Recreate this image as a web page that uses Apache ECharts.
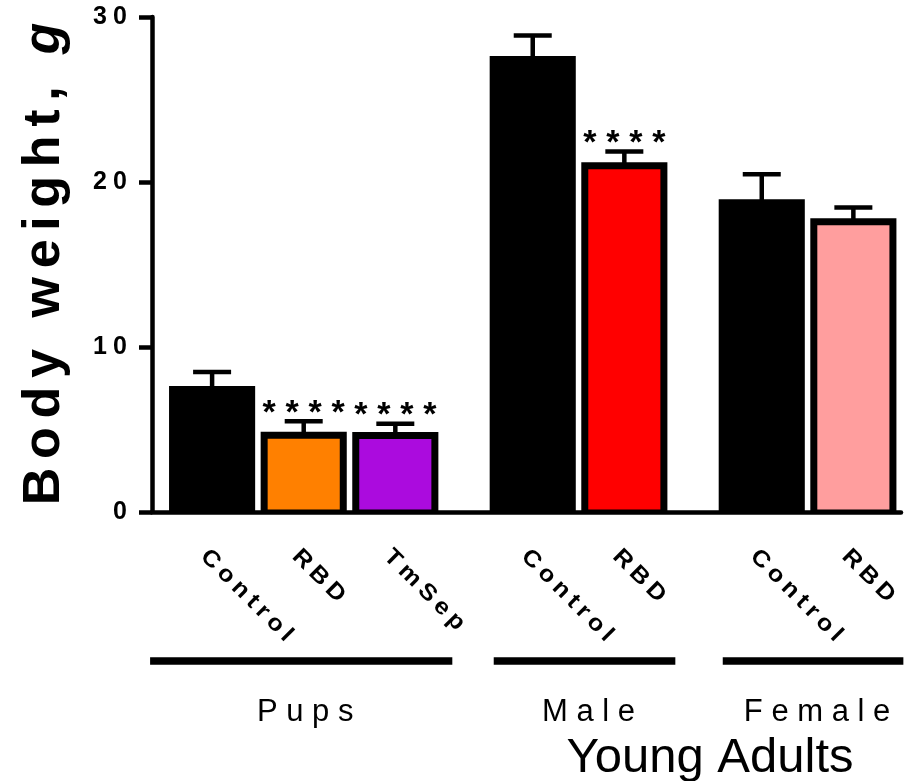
<!DOCTYPE html>
<html>
<head>
<meta charset="utf-8">
<script src="https://cdn.jsdelivr.net/npm/echarts@6/dist/echarts.min.js"></script>
<style>
  html, body { margin: 0; padding: 0; background: #ffffff; }
  #chart { width: 906px; height: 781px; }
</style>
</head>
<body>
<div id="chart"></div>
<script>
// Body weight (g): mean and SEM for each group and condition
const groups = ['Pups', 'Male', 'Female'];
const conditions = [['Control', 'RBD', 'TmSep'], ['Control', 'RBD'], ['Control', 'RBD']];
const means = [[7.64, 4.87, 4.85], [27.64, 21.19], [18.95, 17.80]];
const sems = [[0.84, 0.63, 0.50], [1.24, 0.66], [1.52, 0.65]];
const significance = [['', '****', '****'], ['', '****'], ['', '']];
const yTicks = [0, 10, 20, 30];
const adultsLabel = 'Young Adults';
const yTitle = 'Body weight, ';
const yTitleUnit = 'g';

// fill colours per condition (control bars are solid black)
const fills = [['#000000', '#ff8000', '#ab0bde'], ['#000000', '#ff0000'], ['#000000', '#ff9e9e']];

const FONT = '"Liberation Sans", Arial, Helvetica, sans-serif';
const spaced = (s, gap) => s.split('').join(gap);

// place bars: one slot per bar, half a slot of extra room between groups
const bars = [];
let slot = 0;
groups.forEach((g, gi) => {
  conditions[gi].forEach((c, ci) => {
    bars.push({
      pos: slot + gi * 0.5,
      mean: means[gi][ci],
      sem: sems[gi][ci],
      fill: fills[gi][ci],
      name: c,
      stars: significance[gi][ci]
    });
    slot++;
  });
});
const groupSpans = [];
{
  let k = 0;
  groups.forEach((g, gi) => {
    const n = conditions[gi].length;
    groupSpans.push([bars[k].pos, bars[k + n - 1].pos]);
    k += n;
  });
}
// horizontal reach of the group underline beyond first/last bar centre (px)
const bracketPad = [[62, 57], [39, 51], [39, 50]];

const chart = echarts.init(document.getElementById('chart'), null, { renderer: 'canvas' });

const option = {
  animation: false,
  backgroundColor: '#ffffff',
  grid: { left: 152, top: 17, width: 749, height: 495, containLabel: false },
  xAxis: {
    type: 'value',
    min: -0.656,
    max: 7.52,
    axisLine: { show: true, onZero: false, lineStyle: { color: '#000', width: 4.5 } },
    axisTick: { show: false },
    axisLabel: { show: false },
    splitLine: { show: false }
  },
  yAxis: {
    type: 'value',
    min: yTicks[0],
    max: yTicks[yTicks.length - 1],
    interval: yTicks[1] - yTicks[0],
    axisLine: { show: true, onZero: false, lineStyle: { color: '#000', width: 4.5 } },
    axisTick: { show: true, inside: false, length: 13, lineStyle: { color: '#000', width: 4.5 } },
    axisLabel: {
      margin: 25,
      color: '#000',
      fontFamily: FONT,
      fontWeight: 'bold',
      fontSize: 25,
      padding: [6, 0, 0, 0],
      formatter: v => spaced(String(v), '\u2005')
    },
    splitLine: { show: false }
  },
  graphic: [
    {
      type: 'text',
      x: 45,
      y: 264,
      rotation: Math.PI / 2,
      style: {
        text: '{a|' + spaced(yTitle, '\u2006') + '\u2006}{b|' + yTitleUnit + '}',
        align: 'center',
        verticalAlign: 'middle',
        rich: {
          a: { fontFamily: FONT, fontWeight: 'bold', fontSize: 52, fill: '#000' },
          b: { fontFamily: FONT, fontWeight: 'bold', fontStyle: 'italic', fontSize: 52, fill: '#000' }
        }
      }
    },
    {
      type: 'text',
      x: 710,
      y: 758,
      style: {
        text: adultsLabel,
        fontFamily: FONT,
        fontSize: 49,
        fill: '#000',
        align: 'center',
        verticalAlign: 'middle'
      }
    }
  ],
  series: [
    {
      type: 'custom',
      name: 'bars',
      clip: false,
      data: bars.map(b => [b.pos, b.mean, b.sem]),
      renderItem: (params, api) => {
        const b = bars[params.dataIndex];
        const x = api.value(0), m = api.value(1), s = api.value(2);
        const base = api.coord([x, 0]);
        const top = api.coord([x, m]);
        const err = api.coord([x, m + s]);
        const unit = api.size([1, 0])[0];
        const w = unit * 0.94;
        const cx = base[0];
        const left = cx - w / 2;
        const border = 7;
        const children = [];
        // outline / solid bar
        children.push({
          type: 'rect',
          shape: { x: left, y: top[1], width: w, height: base[1] - top[1] },
          style: { fill: '#000' }
        });
        if (b.fill !== '#000000') {
          children.push({
            type: 'rect',
            shape: { x: left + border, y: top[1] + border, width: w - 2 * border, height: base[1] - 2.5 - top[1] - border },
            style: { fill: b.fill }
          });
        }
        // SEM whisker
        children.push({
          type: 'line',
          shape: { x1: cx, y1: top[1] + 1, x2: cx, y2: err[1] },
          style: { stroke: '#000', lineWidth: 4.5 }
        });
        children.push({
          type: 'line',
          shape: { x1: cx - 19, y1: err[1], x2: cx + 19, y2: err[1] },
          style: { stroke: '#000', lineWidth: 4.5 }
        });
        // significance asterisks
        const n = b.stars.length;
        for (let k = 0; k < n; k++) {
          children.push({
            type: 'text',
            x: cx + (k - (n - 1) / 2) * 23,
            y: err[1] - 8,
            style: {
              text: '*', fontFamily: FONT, fontWeight: 'bold', fontSize: 34,
              fill: '#000', align: 'center', verticalAlign: 'middle'
            }
          });
        }
        // condition label, slanted
        children.push({
          type: 'text',
          x: cx - 8,
          y: base[1] + 41,
          rotation: -Math.PI / 4,
          scaleX: 1.1,
          style: {
            text: spaced(b.name, '\u2009'),
            fontFamily: FONT, fontWeight: 'bold', fontSize: 23,
            fill: '#000', align: 'left', verticalAlign: 'middle'
          }
        });
        return { type: 'group', children };
      }
    },
    {
      type: 'custom',
      name: 'groups',
      clip: false,
      data: groupSpans,
      renderItem: (params, api) => {
        const gi = params.dataIndex;
        const a = api.coord([api.value(0), 0]);
        const b = api.coord([api.value(1), 0]);
        const x1 = a[0] - bracketPad[gi][0];
        const x2 = b[0] + bracketPad[gi][1];
        return {
          type: 'group',
          children: [
            { type: 'rect', shape: { x: x1, y: a[1] + 145.3, width: x2 - x1, height: 7.4 }, style: { fill: '#000' } },
            {
              type: 'text', x: (x1 + x2) / 2 + 4, y: a[1] + 200,
              style: {
                text: spaced(groups[gi], ' '), fontFamily: FONT, fontSize: 31,
                fill: '#000', align: 'center', verticalAlign: 'middle'
              }
            }
          ]
        };
      }
    }
  ]
};

chart.setOption(option);
</script>
</body>
</html>
